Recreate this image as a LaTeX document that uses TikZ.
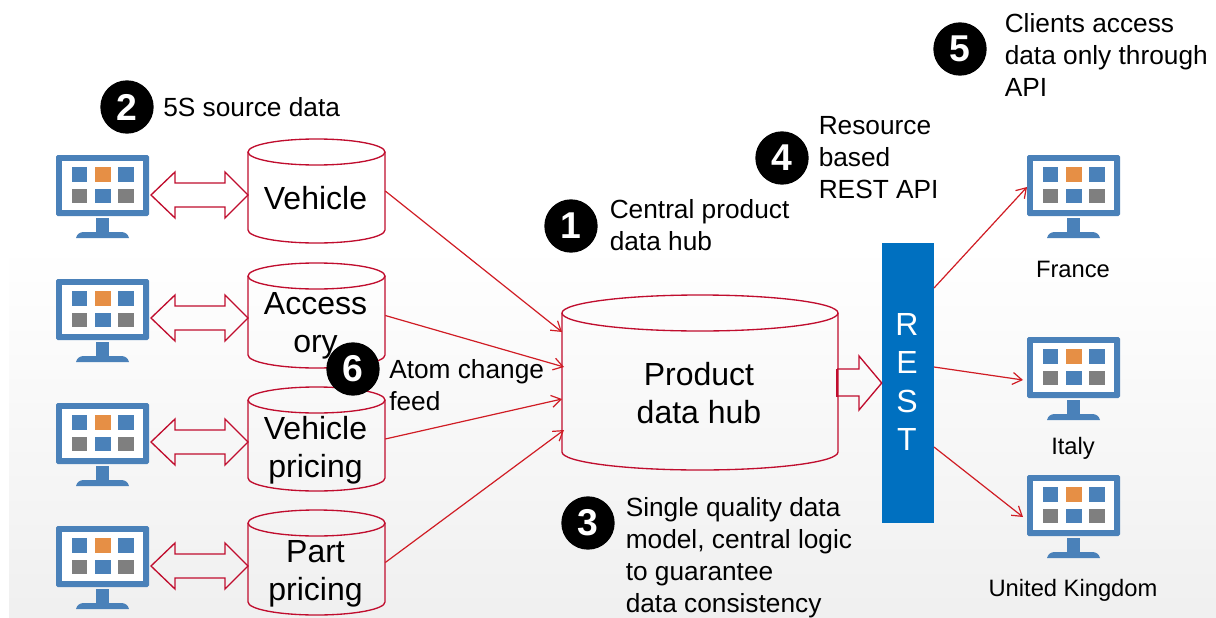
\documentclass[tikz,border=0pt]{standalone}
\usepackage{fontspec}
\setmainfont{Liberation Sans}
\usetikzlibrary{arrows.meta}
\definecolor{cred}{HTML}{C00D2E}
\definecolor{lred}{HTML}{D01C24}
\definecolor{mblue}{HTML}{4A81B9}
\definecolor{morange}{HTML}{E68F45}
\definecolor{mgray}{HTML}{7F7F7F}
\definecolor{rblue}{HTML}{0070C0}
\tikzset{
  x=0.75pt,y=-0.75pt,
  cyl/.style={draw=cred,line width=1pt},
  dblarrow/.style={draw=cred,line width=1pt,line join=miter},
  link/.style={draw=lred,line width=0.9pt,-{Straight Barb[length=7pt,width=9pt,line width=0.9pt]}},
  bigtxt/.style={font=\fontsize{24}{28.5}\selectfont,align=center,inner sep=0pt,minimum width=137*0.75pt},
  note/.style={font=\fontsize{19.7}{24}\selectfont,align=left,inner sep=0pt,anchor=north west},
  country/.style={font=\fontsize{17.8}{21}\selectfont,inner sep=0pt},
  badge/.style={circle,fill=black,text=white,minimum size=40pt,inner sep=0pt,font=\fontsize{28}{28}\selectfont\bfseries},
  pics/monitor/.style={code={
    \fill[mblue,rounded corners=1.2pt] (0,0) rectangle (93,61);
    \fill[white] (6,6) rectangle (87,55);
    \fill[mblue] (16,12) rectangle (31,27);
    \fill[morange] (39,12) rectangle (55,27);
    \fill[mblue] (62,12) rectangle (78,27);
    \fill[mgray] (16,34) rectangle (31,48);
    \fill[mblue] (39,34) rectangle (55,48);
    \fill[mgray] (62,34) rectangle (78,48);
    \fill[mblue] (40,63) rectangle (53,77);
    \fill[mblue] (20,83) .. controls (21,79) and (24,77) .. (28,77) -- (65,77) .. controls (69,77) and (72,79) .. (73,83) -- cycle;
  }},
  pics/dbl/.style={code={
    \draw[dblarrow] (0,0) -- (24,-23) -- (24,-12) -- (74,-12) -- (74,-23) -- (97,0) -- (74,23) -- (74,12) -- (24,12) -- (24,23) -- cycle;
  }},
}
\newcommand{\cylshape}[5]{% x1 x2 top bottom ry
  \draw[cyl] (#1,#3+#5) arc[start angle=180,end angle=0,x radius={(#2-#1)/2*0.75pt},y radius=#5*0.75pt]
    arc[start angle=0,end angle=-180,x radius={(#2-#1)/2*0.75pt},y radius=#5*0.75pt] -- cycle;
  \draw[cyl] (#1,#3+#5) -- (#1,#4-#5) arc[start angle=180,end angle=360,x radius={(#2-#1)/2*0.75pt},y radius=#5*0.75pt] -- (#2,#3+#5);
}
\begin{document}
\begin{tikzpicture}
\useasboundingbox (0,0) rectangle (1216,617);
\fill[white] (0,0) rectangle (1216,617);
\shade[top color=white,bottom color=black!6] (9,245) rectangle (1216,617);

% monitors
\pic at (56,155) {monitor};
\pic at (56,279) {monitor};
\pic at (56,403) {monitor};
\pic at (56,526) {monitor};
\pic at (1027,155) {monitor};
\pic at (1027,337) {monitor};
\pic at (1027,475) {monitor};

% double arrows
\pic at (151,195) {dbl};
\pic at (151,318) {dbl};
\pic at (151,442) {dbl};
\pic at (151,566) {dbl};

% cylinders
\cylshape{248}{385}{139}{243}{13}
\cylshape{248}{385}{263}{368}{13}
\cylshape{248}{385}{387}{491}{13}
\cylshape{248}{385}{510}{615}{13}
\cylshape{562}{838}{295}{470}{18}

\node[bigtxt,minimum height=78pt] (veh) at (316.5,191) {};
\node[bigtxt,minimum height=78pt] (acc) at (316.5,315.5) {};
\node[bigtxt,minimum height=78pt] (vpr) at (316.5,439) {};
\node[bigtxt,minimum height=78pt] (ppr) at (316.5,562.5) {};
\node[bigtxt] at (315.5,198) {Vehicle};
\node[bigtxt] at (315.5,326) {Access\\ory};
\node[bigtxt] at (315.5,450) {Vehicle\\pricing};
\node[bigtxt] at (315.5,574) {Part\\pricing};
\node[bigtxt,minimum width=207pt,minimum height=110pt] (hub) at (700,382) {};
\node[bigtxt] at (699,393) {Product\\data hub};

% REST bar
\node[fill=rblue,minimum width=39pt,minimum height=210pt,inner sep=0pt] (rest) at (908,383) {};
\node[text=white,font=\fontsize{24}{28.7}\selectfont,align=center,inner sep=0pt] at (907,382) {R\\E\\S\\T};

% hub -> REST arrow
\coordinate (ra) at (837,383);
\draw[dblarrow] (ra) ++(0,-14) -- ++(22,0) -- ++(0,-13) -- (rest.west) -- (859,410) -- (859,396) -- (837,396);
\draw[cred,line width=1.6pt] (837,368.5) -- (837,396.5);

% connectors
\coordinate (h1) at (562,332);
\coordinate (h2) at (564,367);
\coordinate (h3) at (562,399);
\coordinate (h4) at (564,430);
\draw[link] (veh.east) -- (h1);
\draw[link] (acc.east) -- (h2);
\draw[link] (vpr.east) -- (h3);
\draw[link] (ppr.east) -- (h4);
\coordinate (r1) at (934,288);
\coordinate (r2) at (934,367);
\coordinate (r3) at (934,447);
\coordinate (m1) at (1027,187);
\coordinate (m2) at (1023,380);
\coordinate (m3) at (1023,517);
\draw[link] (r1) -- (m1);
\draw[link] (r2) -- (m2);
\draw[link] (r3) -- (m3);

% badges
\node[badge] (b2) at (127,107) {2};
\node[badge] (b1) at (571,226) {1};
\node[badge] (b4) at (782,158) {4};
\node[badge] (b5) at (960,49) {5};
\node[badge] (b6) at (353,369) {6};
\node[badge] (b3) at (588,523) {3};

% notes
\node[note] at (163,97) {5S source data};
\node[note] at (609.5,199) {Central product\\data hub};
\node[note] at (818.5,116) {Resource\\based\\REST API};
\node[note] at (1004.5,13) {Clients access\\data only through\\API};
\node[note] at (389,359) {Atom change\\feed};
\node[note] at (625.5,497) {Single quality data\\model, central logic\\to guarantee\\data consistency};

\node[country] at (1073,269) {France};
\node[country] at (1073,448) {Italy};
\node[country] at (1073,590) {United Kingdom};
\end{tikzpicture}
\end{document}
